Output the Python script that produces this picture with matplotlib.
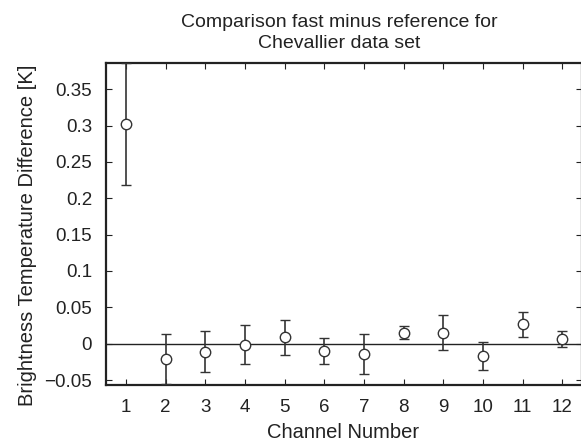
import numpy as np
import matplotlib
matplotlib.use("Agg")
import matplotlib.pyplot as plt

plt.rcParams['font.family'] = ['Liberation Sans', 'DejaVu Sans']

channels = [1, 2, 3, 4, 5, 6, 7, 8, 9, 10, 11, 12]
diff = [0.302, -0.021, -0.0112, -0.0014, 0.009, -0.0095, -0.014, 0.015, 0.015, -0.017, 0.0267, 0.0068]
err = [0.084, 0.034, 0.028, 0.027, 0.024, 0.018, 0.028, 0.0087, 0.024, 0.019, 0.017, 0.0107]

yticks = [-0.05, 0, 0.05, 0.1, 0.15, 0.2, 0.25, 0.3, 0.35]
ytick_labels = ['\u22120.05', '0', '0.05', '0.1', '0.15', '0.2', '0.25', '0.3', '0.35']

W, H = 581, 445
fig = plt.figure(figsize=(W / 100, H / 100), dpi=100)
ax = fig.add_axes([106 / W, 1 - 385 / H, 476 / W, 322 / H])

ax.axhline(0, color='#222222', lw=1.0, zorder=1)
ax.errorbar(channels, diff, yerr=err, fmt='o', mfc='white', mec='#333333', mew=1.0,
            ms=7.5, ecolor='#333333', elinewidth=1.2, capsize=3.5, capthick=1.2, zorder=3)

ax.set_xlim(0.5, 12.5)
ax.set_ylim(-0.0568, 0.386)
ax.set_xticks(channels)
ax.set_yticks(yticks)
ax.set_yticklabels(ytick_labels)
ax.tick_params(direction='in', top=True, right=True, length=4, labelsize=13.5, color='#222222',
               labelcolor='#222222')
ax.tick_params(axis='y', pad=10)
ax.tick_params(axis='x', pad=10)

for s in ax.spines.values():
    s.set_linewidth(1.6)
    s.set_color('#222222')

fig.text(339 / W, 1 - 33 / H, 'Comparison fast minus reference for\nChevallier data set',
         fontsize=14, ha='center', va='center', linespacing=1.25, color='#222222')
fig.text(343 / W, 1 - 433 / H, 'Channel Number', fontsize=14.5, ha='center', va='center',
         color='#222222')
fig.text(28 / W, 1 - 235 / H, 'Brightness Temperature Difference [K]', fontsize=14.5,
         rotation=90, ha='center', va='center', color='#222222')

fig.savefig('out.png', dpi=100)
